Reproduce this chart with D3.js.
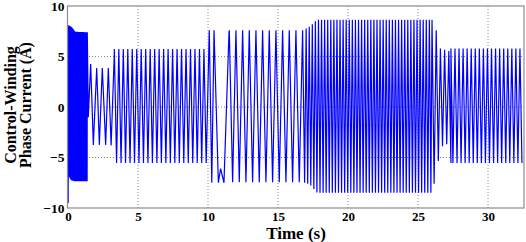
<!DOCTYPE html>
<html>
<head>
<meta charset="utf-8">
<script src="https://cdn.jsdelivr.net/npm/d3@7"></script>
<style>
    body { margin: 0; background: #fff; }
    svg { display: block; }
    text { font-family: "Liberation Serif", "Times New Roman", serif; font-weight: bold; fill: #000; }
</style>
</head>
<body>
<div id="chart"></div>
<script>
// tick labels
const xTicks = [0, 5, 10, 15, 20, 25, 30];
const yTicks = [-10, -5, 0, 5, 10];

// envelope of the oscillation (time s, upper A, lower A)
const envTime  = [0.02, 0.25, 0.5, 1.38, 3.31, 9.97, 10.05, 16.8, 17.3, 17.8, 26.0, 26.3, 26.6, 27.3, 27.35, 32.57];
const envUpper = [8.1, 7.9, 7.45, 7.4, 5.75, 5.75, 7.6, 7.6, 8.0, 8.65, 8.65, 7.6, 5.8, 5.5, 5.8, 5.8];
const envLower = [-6.75, -7.25, -7.35, -7.35, -5.55, -5.55, -7.45, -7.45, -7.7, -8.5, -8.5, -6.7, -4.0, -3.5, -5.55, -5.55];

// dense parts: start, end, visible period (s), first turn high or low (null = carry on)
const denseStart  = [0.015, 3.31, 11.52, 16.9, 26.0, 27.35];
const denseEnd    = [1.38, 9.97, 16.9, 26.0, 27.35, 32.57];
const densePeriod = [0.025, 0.32, 0.476, 0.22, 0.3, 0.29];
const denseHigh   = [false, true, true, null, null, null];

// slow parts, peak by peak
const startTime  = [0, 0.012];
const startValue = [0, -9.5];
const slowTime   = [1.45, 1.62, 1.81, 2.05, 2.24, 2.45, 2.69, 2.88, 3.08, 3.30];
const slowValue  = [-1.0, 4.25, -3.75, 3.85, -3.75, 3.85, -3.75, 3.85, -3.8, 5.0];
const notchTime  = [10.09, 10.27, 10.43, 10.74, 10.90, 11.14, 11.50];
const notchValue = [7.6, -7.5, 7.6, -7.5, -6.1, -7.5, 7.4];

class PhaseCurrentPlot {
    constructor(parentElement) {
        this.parentElement = parentElement;
        this.initVis();
    }

    initVis() {
        let vis = this;
        vis.width = 526;
        vis.height = 242;
        vis.plot = { left: 68, right: 524, top: 6, bottom: 208 };

        vis.svg = d3.select("#" + vis.parentElement)
            .append("svg")
            .attr("width", vis.width)
            .attr("height", vis.height);

        vis.xScale = d3.scaleLinear()
            .domain([0, 32.57])
            .range([vis.plot.left, vis.plot.right]);
        vis.yScale = d3.scaleLinear()
            .domain([-10, 10])
            .range([vis.plot.bottom, vis.plot.top]);

        vis.wrangleData();
    }

    wrangleData() {
        let vis = this;
        const upper = d3.scaleLinear().domain(envTime).range(envUpper).clamp(true);
        const lower = d3.scaleLinear().domain(envTime).range(envLower).clamp(true);

        vis.points = [];
        startTime.forEach((t, i) => vis.points.push({ t: t, v: startValue[i] }));
        slowTime.forEach((t, i) => vis.points.push({ t: t, v: slowValue[i] }));
        notchTime.forEach((t, i) => vis.points.push({ t: t, v: notchValue[i] }));

        // turning points of the dense parts, alternately on the upper and lower envelope
        let high = false;
        denseStart.forEach((t0, i) => {
            if (denseHigh[i] !== null) high = denseHigh[i];
            const half = densePeriod[i] / 2;
            for (let t = t0; t < denseEnd[i]; t += half) {
                vis.points.push({ t: t, v: high ? upper(t) : lower(t) });
                high = !high;
            }
        });
        vis.points.sort((a, b) => a.t - b.t);

        vis.updateVis();
    }

    updateVis() {
        let vis = this;
        const p = vis.plot;

        // dotted grid
        vis.svg.append("g")
            .selectAll("line")
            .data(xTicks.slice(1))
            .join("line")
            .attr("x1", d => vis.xScale(d)).attr("x2", d => vis.xScale(d))
            .attr("y1", p.top).attr("y2", p.bottom)
            .attr("stroke", "#8a8a8a")
            .attr("stroke-dasharray", "1,2");
        vis.svg.append("g")
            .selectAll("line")
            .data(yTicks.slice(1, -1))
            .join("line")
            .attr("x1", p.left).attr("x2", p.right)
            .attr("y1", d => vis.yScale(d)).attr("y2", d => vis.yScale(d))
            .attr("stroke", "#8a8a8a")
            .attr("stroke-dasharray", "1,2");

        const line = d3.line()
            .x(d => vis.xScale(d.t))
            .y(d => vis.yScale(d.v));

        vis.svg.append("path")
            .datum(vis.points)
            .attr("class", "line")
            .attr("d", line)
            .attr("fill", "none")
            .attr("stroke", "#0000ff")
            .attr("stroke-width", 1.2);

        // box
        vis.svg.append("rect")
            .attr("x", p.left - 0.5)
            .attr("y", p.top)
            .attr("width", p.right - p.left + 0.5)
            .attr("height", p.bottom - p.top)
            .attr("fill", "none")
            .attr("stroke", "#8c8c8c")
            .attr("stroke-width", 1.2);

        const xAxis = d3.axisBottom(vis.xScale).tickValues(xTicks).tickSize(0).tickPadding(3.8);
        const yAxis = d3.axisLeft(vis.yScale).tickValues(yTicks).tickSize(0).tickPadding(3.5);

        vis.svg.append("g")
            .attr("class", "axis x-axis")
            .attr("transform", `translate(0, ${p.bottom})`)
            .call(xAxis)
            .call(g => g.select(".domain").remove())
            .selectAll("text")
            .attr("font-size", 13)
            .attr("font-family", null)
            .attr("fill", "#000");

        vis.svg.append("g")
            .attr("class", "axis y-axis")
            .attr("transform", `translate(${p.left}, 0)`)
            .call(yAxis)
            .call(g => g.select(".domain").remove())
            .selectAll("text")
            .attr("font-size", 13.5)
            .attr("font-family", null)
            .attr("fill", "#000");

        vis.svg.append("text")
            .attr("class", "x-axis-label")
            .attr("x", 296)
            .attr("y", 238.5)
            .attr("text-anchor", "middle")
            .attr("font-size", 17)
            .text("Time (s)");

        const yLabel = vis.svg.append("text")
            .attr("class", "y-axis-label")
            .attr("transform", "translate(0, 105) rotate(-90)")
            .attr("text-anchor", "middle")
            .attr("font-size", 16);
        yLabel.append("tspan").attr("x", 0).attr("y", 16).text("Control-Winding");
        yLabel.append("tspan").attr("x", 0).attr("y", 31).text("Phase Current (A)");
    }
}

new PhaseCurrentPlot("chart");
</script>
</body>
</html>
